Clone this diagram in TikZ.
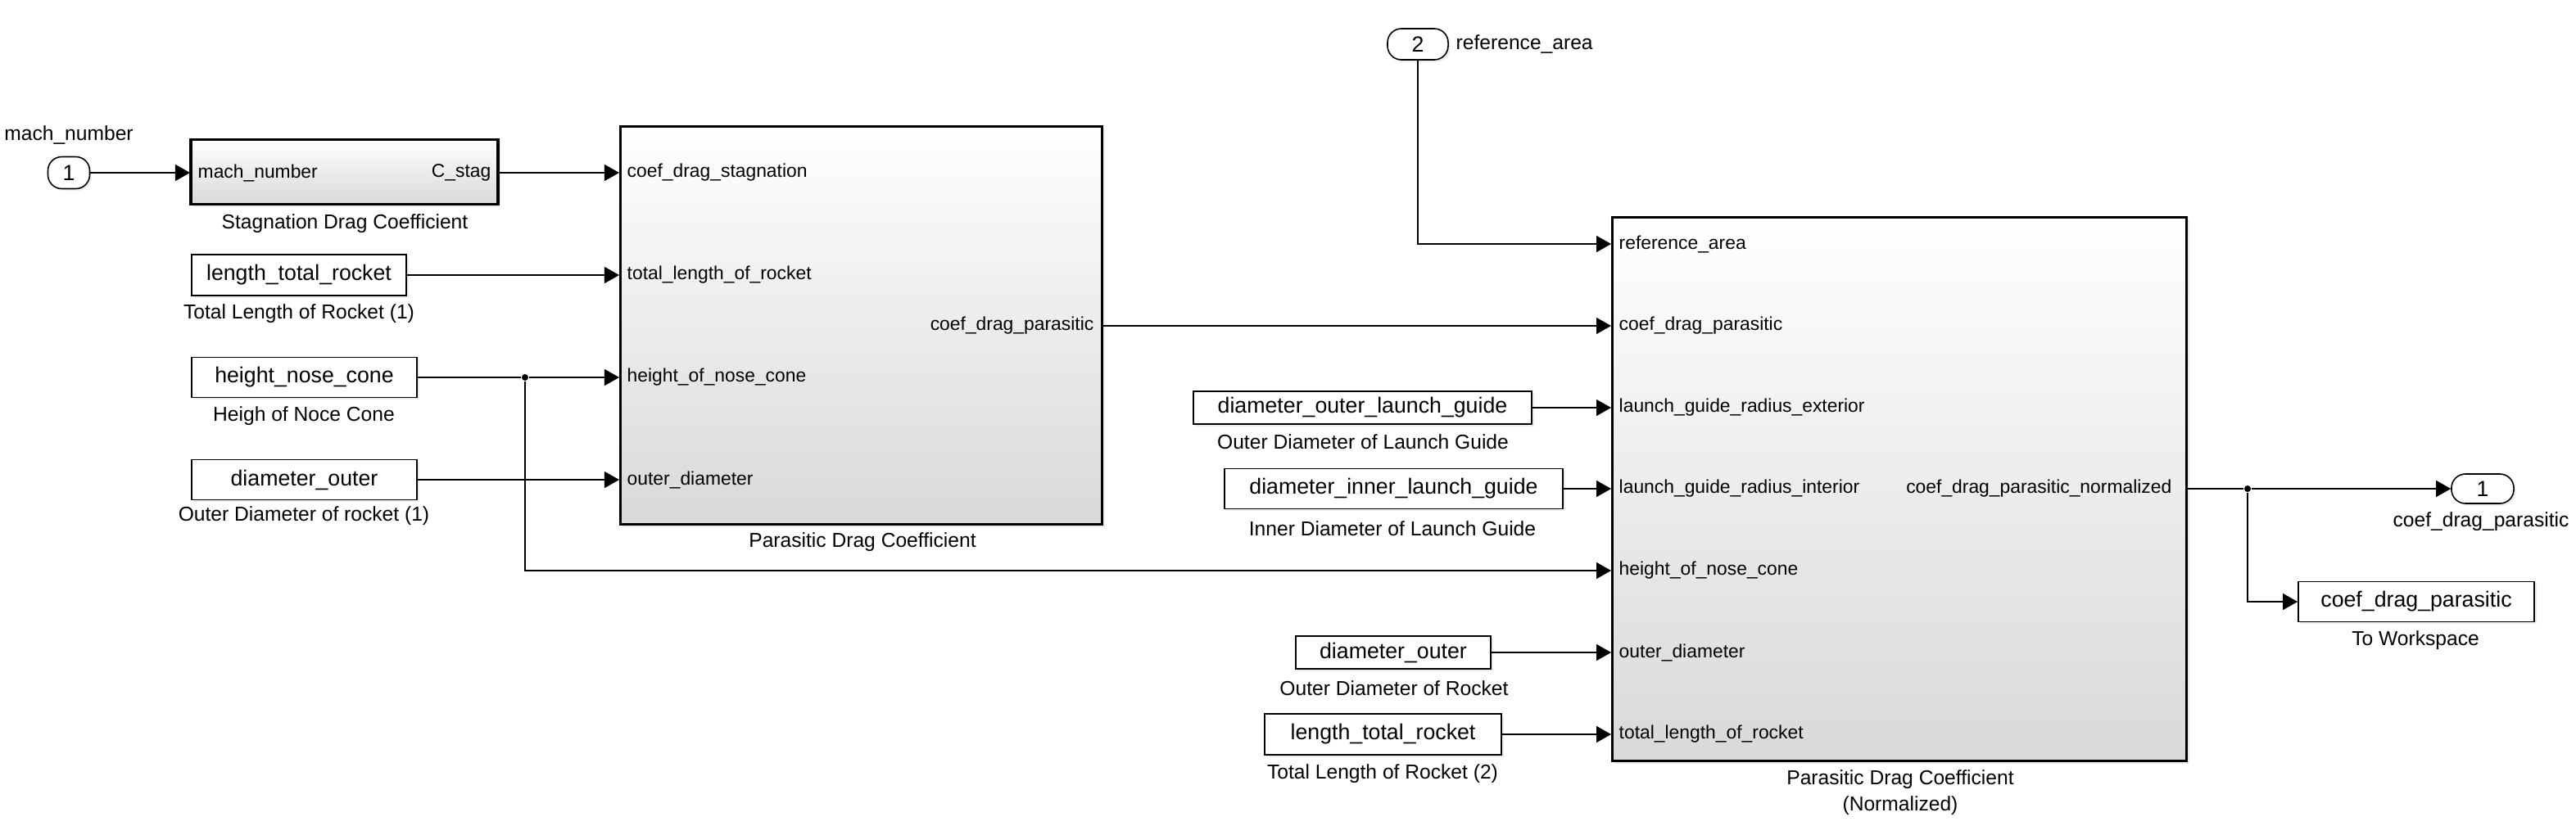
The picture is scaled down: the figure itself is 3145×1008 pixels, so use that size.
\documentclass[tikz,border=0pt]{standalone}
\usepackage{fontspec}
\setmainfont{Liberation Sans}
\usetikzlibrary{
  arrows.meta,
  positioning,
  shadows
}
\newcommand{\plabfont}{\fontsize{6.5pt}{7.5pt}\selectfont}
\newcommand{\capfont}{\fontsize{7pt}{9.1pt}\selectfont}
\newcommand{\constfont}{\fontsize{7.6pt}{9pt}\selectfont}
\tikzset{
  >={Triangle[length=1.8mm, width=2mm]},
  sig/.style={->, line width=0.4pt},
  wire/.style={line width=0.4pt},
  subsys/.style={draw, line width=1pt, top color=white, bottom color=black!15,
    drop shadow={shadow xshift=0.3mm, shadow yshift=-0.3mm, opacity=0.15}, inner sep=0pt},
  constbox/.style={draw, fill=white, line width=0.45pt, inner sep=0pt, font=\constfont,
    drop shadow={shadow xshift=0.25mm, shadow yshift=-0.25mm, opacity=0.15}},
  portbox/.style={constbox, rounded corners=1.7mm},
  plab/.style={inner sep=0pt, font=\plabfont},
  caption/.style={inner sep=0pt, font=\capfont, align=center},
  junction/.style={circle, fill, inner sep=0pt, minimum size=0.8mm}
}

\begin{document}
\begin{tikzpicture}[x=0.01cm, y=-0.01cm]
    \useasboundingbox (0,0) rectangle (3145,1008);

    % input 1 and stagnation block
    \node[portbox, minimum width=5.1mm, minimum height=3.9mm] (in1) at (84,211) {1};
    \node[caption] (in1-cap) at (84,165) {mach\_number};
    \node[subsys, minimum width=37.5mm, minimum height=7.9mm] (stag) at (420.5,210) {};
    \coordinate (stag-i1) at (232,211);
    \coordinate (stag-o1) at (609,211);
    \node[plab, right=0.9mm of stag-i1] (stag-l1) {mach\_number};
    \node[plab, left=0.9mm of stag-o1] (stag-l2) {C\_stag};
    \node[caption] (stag-cap) at (421,273) {Stagnation Drag Coefficient};

    % constants on the left
    \node[constbox, minimum width=26.2mm, minimum height=5mm] (ltr1) at (365,336) {length\_total\_rocket};
    \node[caption] (ltr1-cap) at (365,383) {Total Length of Rocket (1)};
    \node[constbox, minimum width=27.5mm, minimum height=4.9mm] (hnc) at (371.5,461) {height\_nose\_cone};
    \node[caption] (hnc-cap) at (371,508) {Heigh of Noce Cone};
    \node[constbox, minimum width=27.5mm, minimum height=4.9mm] (dout1) at (371.5,586) {diameter\_outer};
    \node[caption] (dout1-cap) at (371,630) {Outer Diameter of rocket (1)};
    \node[junction] (br1) at (641,461) {};

    % parasitic drag coefficient
    \node[subsys, minimum width=58.8mm, minimum height=48.6mm] (pdc) at (1051.5,397.5) {};
    \coordinate (pdc-i1) at (756,211);
    \coordinate (pdc-i2) at (756,336);
    \coordinate (pdc-i3) at (756,461);
    \coordinate (pdc-i4) at (756,586);
    \coordinate (pdc-o) at (1347,398);
    \node[plab, right=0.9mm of pdc-i1] (pdc-l1) {coef\_drag\_stagnation};
    \node[plab, right=0.9mm of pdc-i2] (pdc-l2) {total\_length\_of\_rocket};
    \node[plab, right=0.9mm of pdc-i3] (pdc-l3) {height\_of\_nose\_cone};
    \node[plab, right=0.9mm of pdc-i4] (pdc-l4) {outer\_diameter};
    \node[plab, left=1.1mm of pdc-o] (pdc-l5) {coef\_drag\_parasitic};
    \node[caption] (pdc-cap) at (1053,662) {Parasitic Drag Coefficient};

    % input 2 and normalized block
    \node[portbox, minimum width=7.4mm, minimum height=3.8mm] (in2) at (1731,54) {2};
    \node[caption, anchor=west] (in2-cap) at (1777,54) {reference\_area};
    \node[subsys, minimum width=70.1mm, minimum height=66.4mm] (pdcn) at (2319,597.5) {};
    \coordinate (pdcn-i1) at (1967,298);
    \coordinate (pdcn-i2) at (1967,398);
    \coordinate (pdcn-i3) at (1967,498);
    \coordinate (pdcn-i4) at (1967,597);
    \coordinate (pdcn-i5) at (1967,697);
    \coordinate (pdcn-i6) at (1967,797);
    \coordinate (pdcn-i7) at (1967,897);
    \coordinate (pdcn-o) at (2671,597);
    \node[plab, right=0.9mm of pdcn-i1] (pdcn-l1) {reference\_area};
    \node[plab, right=0.9mm of pdcn-i2] (pdcn-l2) {coef\_drag\_parasitic};
    \node[plab, right=0.9mm of pdcn-i3] (pdcn-l3) {launch\_guide\_radius\_exterior};
    \node[plab, right=0.9mm of pdcn-i4] (pdcn-l4) {launch\_guide\_radius\_interior};
    \node[plab, right=0.9mm of pdcn-i5] (pdcn-l5) {height\_of\_nose\_cone};
    \node[plab, right=0.9mm of pdcn-i6] (pdcn-l6) {outer\_diameter};
    \node[plab, right=0.9mm of pdcn-i7] (pdcn-l7) {total\_length\_of\_rocket};
    \node[plab, left=1.9mm of pdcn-o] (pdcn-l8) {coef\_drag\_parasitic\_normalized};
    \node[caption] (pdcn-cap) at (2320,968) {Parasitic Drag Coefficient\\(Normalized)};

    % constants on the right
    \node[constbox, minimum width=41.3mm, minimum height=4mm] (dolg) at (1663.5,498) {diameter\_outer\_launch\_guide};
    \node[caption] (dolg-cap) at (1664,540) {Outer Diameter of Launch Guide};
    \node[constbox, minimum width=41.3mm, minimum height=4.9mm] (dilg) at (1701.5,597) {diameter\_inner\_launch\_guide};
    \node[caption] (dilg-cap) at (1700,646) {Inner Diameter of Launch Guide};
    \node[constbox, minimum width=23.8mm, minimum height=4mm] (dout2) at (1701,797) {diameter\_outer};
    \node[caption] (dout2-cap) at (1702,841) {Outer Diameter of Rocket};
    \node[constbox, minimum width=28.9mm, minimum height=5mm] (ltr2) at (1688.5,897) {length\_total\_rocket};
    \node[caption] (ltr2-cap) at (1688,945) {Total Length of Rocket (2)};

    % outputs
    \node[junction] (br2) at (2744,597) {};
    \node[portbox, minimum width=7.6mm, minimum height=3.6mm] (out1) at (3031,597) {1};
    \node[caption] (out1-cap) at (3029,637) {coef\_drag\_parasitic};
    \node[constbox, minimum width=28.8mm, minimum height=4.9mm] (tows) at (2950,735) {coef\_drag\_parasitic};
    \node[caption] (tows-cap) at (2949,782) {To Workspace};

    % signal lines
    \draw[sig] (in1) -- (stag-i1);
    \draw[sig] (stag-o1) -- (pdc-i1);
    \draw[sig] (ltr1) -- (pdc-i2);
    \draw[wire] (hnc) -- (br1);
    \draw[sig] (br1) -- (pdc-i3);
    \draw[sig] (br1) |- (pdcn-i5);
    \draw[sig] (dout1) -- (pdc-i4);
    \draw[sig] (pdc-o) -- (pdcn-i2);
    \draw[sig] (in2) |- (pdcn-i1);
    \draw[sig] (dolg) -- (pdcn-i3);
    \draw[sig] (dilg) -- (pdcn-i4);
    \draw[sig] (dout2) -- (pdcn-i6);
    \draw[sig] (ltr2) -- (pdcn-i7);
    \draw[wire] (pdcn-o) -- (br2);
    \draw[sig] (br2) -- (out1);
    \draw[sig] (br2) |- (tows);
\end{tikzpicture}
\end{document}
